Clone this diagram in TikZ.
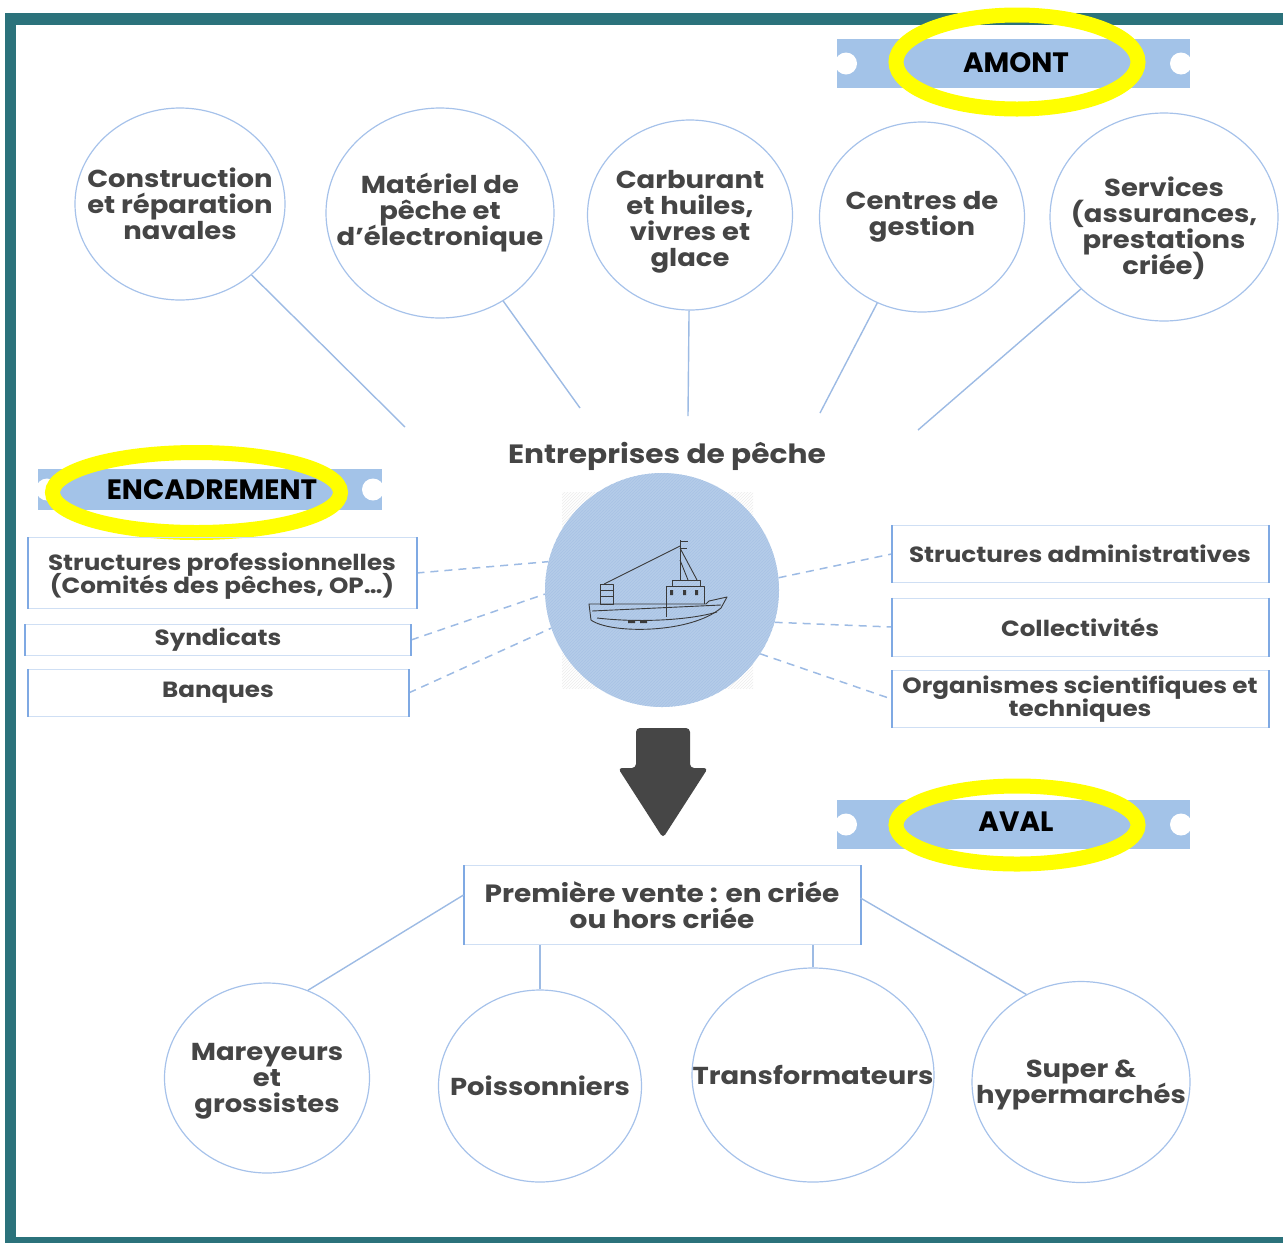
\documentclass[tikz,border=0pt]{standalone}
\usepackage{fontspec}
\setmainfont{Poppins}[FakeStretch=1.12]
\newfontfamily\bannerfont{Poppins}
\usetikzlibrary{shapes.geometric,patterns}
\definecolor{frameteal}{HTML}{2B727B}
\definecolor{bannerblue}{HTML}{A3C3E8}
\definecolor{hilite}{HTML}{FFFF00}
\definecolor{textgray}{HTML}{454545}
\definecolor{bubbleline}{HTML}{A6C2EA}
\definecolor{linkblue}{HTML}{9DBBE4}
\definecolor{boxlight}{HTML}{CFDFF4}
\definecolor{boxedge}{HTML}{7FA9E3}
\definecolor{hubblue}{HTML}{B4CCE9}
\definecolor{hubline}{HTML}{A8C2E5}
\definecolor{arrowgray}{HTML}{464646}
\definecolor{boatgray}{HTML}{3A3A3A}
\newcommand\tightlines{\lineskiplimit-20pt\relax}
\newcommand\bandeau[4]{% x1, x2, y centre, half height
  \fill[bannerblue] (#1,#3-#4) rectangle (#2,#3+#4);
  \fill[white] (#1+9,#3) circle (11);
  \fill[white] (#2-9,#3) circle (11);
}
\tikzset{
  bubble/.style={ellipse, draw=bubbleline, line width=1.2pt, inner sep=-200pt,
                 align=center, text=textgray,
                 font=\bfseries\fontsize{24.5}{26}\selectfont\tightlines},
  ebox/.style={rectangle, draw=boxlight, line width=1pt, inner sep=0pt,
               align=center, text=textgray,
               font=\bfseries\fontsize{22}{23}\selectfont\tightlines},
  boxside/.style={draw=boxedge, line width=2pt},
  link/.style={draw=linkblue, line width=1.4pt},
  dashlink/.style={draw=linkblue, line width=1.5pt, dash pattern=on 8pt off 6pt},
  ring/.style={draw=hilite, line width=15pt},
  bannertext/.style={text=black, font=\bannerfont\bfseries\fontsize{28}{30}\selectfont},
  hub/.style={circle, fill=hubblue, minimum size=234, inner sep=0pt,
              postaction={pattern=north east lines, pattern color=hubline}},
  boatline/.style={draw=boatgray, line width=0.9pt, line join=round}
}
\begin{document}
\begin{tikzpicture}[x=1pt,y=-1pt]
\useasboundingbox (0,0) rectangle (1283,1243);
% frame
\fill[frameteal] (5,13) rectangle (1283,25);
\fill[frameteal] (5,13) rectangle (16,1243);
\fill[frameteal] (5,1237) rectangle (1283,1243);

% amont
\node[bubble, minimum width=210, minimum height=192] (c1) at (180,204) {Construction\\et réparation\\navales};
\node[bubble, minimum width=228, minimum height=210] (c2) at (440,213) {Matériel de\\pêche et\\d'électronique};
\node[bubble, minimum width=205, minimum height=190, text height=110pt] (c3) at (690,215) {Carburant\\et huiles,\\vivres et\\glace};
\node[bubble, minimum width=205, minimum height=190] (c4) at (922,217) {Centres de\\gestion};
\node[bubble, minimum width=228, minimum height=208, text height=120pt] (c5) at (1164,217) {Services\\(assurances,\\prestations\\criée)};
\coordinate (h1) at (405,427);
\coordinate (h2) at (580,408);
\coordinate (h3) at (688,416);
\coordinate (h4) at (820,413);
\coordinate (h5) at (918,430);
\foreach \c/\h in {c1/h1,c2/h2,c3/h3,c4/h4,c5/h5} \draw[link] (\c) -- (\h);

\bandeau{837}{1190}{63.5}{24.5}
\draw[ring] (1017,62) ellipse [x radius=121pt, y radius=47pt];
\node[bannertext] (amont) at (1016,63) {AMONT};

% centre
\node[text=textgray, font=\bfseries\fontsize{26.5}{28}\selectfont] (ent) at (667,456) {Entreprises de pêche};
\fill[pattern=north east lines, pattern color=black!8] (562,492) rectangle (753,688);
\node[hub] (hub) at (662,590) {};
\begin{scope}[boatline]
  \draw (589,604) -- (591,620) .. controls (610,634) and (690,634) .. (721,608)
        -- (727,597) -- (709,601) -- (706,604) -- cycle;
  \draw (592,611) -- (721,605);
  \draw (597,618) .. controls (640,623) and (690,620) .. (717,612);
  \fill[boatgray] (628,620) rectangle (635,623) (640,620) rectangle (647,623);
  \draw (666,617) -- (666,586) -- (704,586) -- (704,604);
  \draw (672,586) -- (672,580) -- (700,580) -- (700,586);
  \fill[boatgray] (670,590) rectangle (673,595) (683,590) rectangle (686,595) (695,590) rectangle (698,595);
  \draw (680,580) -- (680,540);
  \draw (680,541) -- (688,541) (680,548) -- (687,548);
  \draw (680,546) -- (604,584);
  \draw (680,548) -- (697,580) (680,560) -- (688,580);
  \draw (600,584) rectangle (613,604);
  \draw (600,590) -- (613,590) (600,596) -- (613,596);
\end{scope}

% encadrement
\bandeau{38}{382}{489.5}{20.5}
\draw[ring] (196.5,492.5) ellipse [x radius=144pt, y radius=40pt];
\node[bannertext] (enc) at (212,490) {ENCADREMENT};

\node[ebox, minimum width=388, minimum height=71, text depth=-4pt] (sp) at (222,573) {Structures professionnelles\\(Comités des pêches, OP…)};
\node[ebox, minimum width=385, minimum height=31] (syn) at (218,640) {Syndicats};
\node[ebox, minimum width=380, minimum height=47] (ban) at (218,693) {Banques};
\node[ebox, minimum width=376, minimum height=57] (sa) at (1080,554) {Structures administratives};
\node[ebox, minimum width=376, minimum height=58] (col) at (1080,627) {Collectivités};
\node[ebox, minimum width=376, minimum height=57] (org) at (1080,699) {Organismes scientifiques et\\techniques};

\draw[dashlink] (sp.east) -- (hub.166);
\draw[dashlink] (syn.east) -- (hub.182);
\draw[dashlink] (ban.east) -- (hub.199);
\draw[dashlink] (hub.6) -- (sa.west);
\draw[dashlink] (hub.-16) -- (col.west);
\draw[dashlink] (hub.-33) -- (org.west);

% aval
\fill[arrowgray, rounded corners=4pt] (636,728) -- (690,728) -- (690,768) -- (708,768)
     -- (663,838) -- (618,768) -- (636,768) -- cycle;
\bandeau{837}{1190}{824.5}{24.5}
\draw[ring] (1017,825) ellipse [x radius=121pt, y radius=39pt];
\node[bannertext] (aval) at (1016,822) {AVAL};

\node[ebox, minimum width=396, minimum height=79, font=\bfseries\fontsize{25}{26}\selectfont] (pv) at (662,905) {Première vente : en criée\\ou hors criée};

\node[bubble, minimum width=205, minimum height=190, text depth=-3pt] (m1) at (267,1078) {Mareyeurs\\et\\grossistes};
\node[bubble, minimum width=203, minimum height=192] (m2) at (540,1086) {Poissonniers};
\node[bubble, minimum width=242, minimum height=214] (m3) at (813,1075) {Transformateurs};
\node[bubble, minimum width=218, minimum height=201, text depth=-3pt] (m4) at (1081,1082) {Super \&\\hypermarchés};

\foreach \b in {sp,syn,ban,sa,col,org,pv}
  \draw[boxside] (\b.north west) -- (\b.south west) (\b.north east) -- (\b.south east);

\draw[link] ([yshift=10pt]pv.west) -- (m1.65);
\draw[link] (pv.south -| m2) -- (m2);
\draw[link] (pv.south -| m3) -- (m3);
\draw[link] ([yshift=7pt]pv.east) -- (m4.122);
\end{tikzpicture}
\end{document}
